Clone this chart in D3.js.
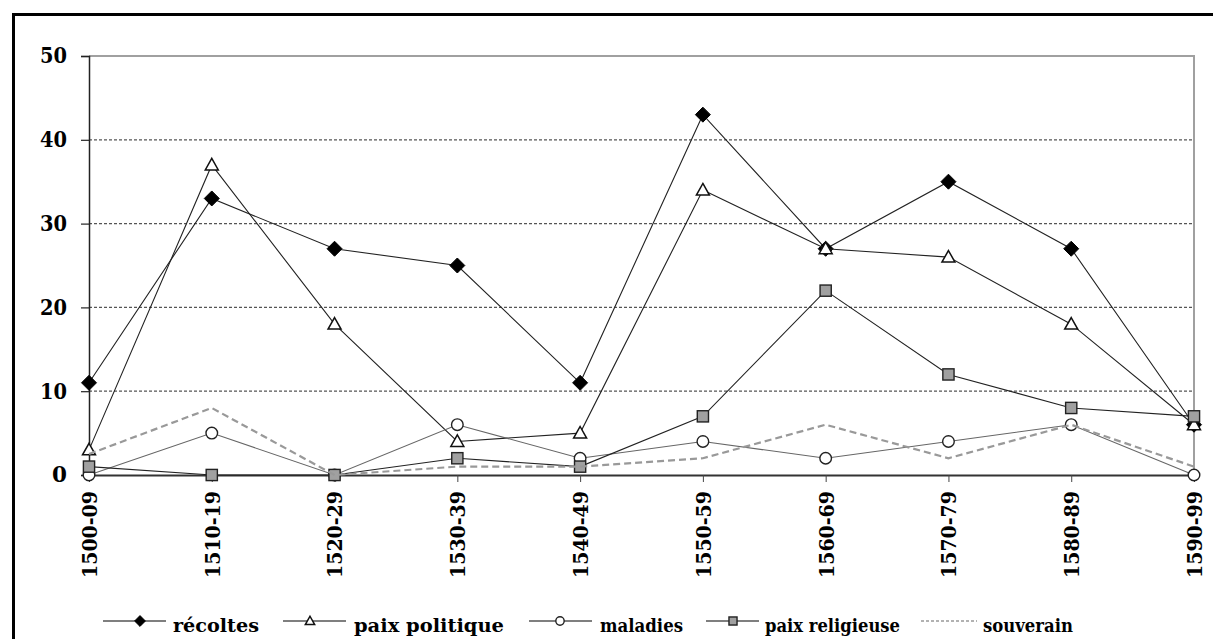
<!DOCTYPE html>
<html>
<head>
<meta charset="utf-8">
<script src="https://cdn.jsdelivr.net/npm/d3@7"></script>
<style>
  html, body { margin: 0; padding: 0; background: #fff; }
  svg { display: block; }
</style>
</head>
<body>
<svg id="chart" width="1213" height="639"></svg>
<script>
// ---- data ----
const categories = ["1500-09","1510-19","1520-29","1530-39","1540-49","1550-59","1560-69","1570-79","1580-89","1590-99"];
const recoltes        = [11, 33, 27, 25, 11, 43, 27, 35, 27, 6];
const paixPolitique   = [3, 37, 18, 4, 5, 34, 27, 26, 18, 6];
const maladies        = [0, 5, 0, 6, 2, 4, 2, 4, 6, 0];
const paixReligieuse  = [1, 0, 0, 2, 1, 7, 22, 12, 8, 7];
const souverain       = [2.5, 8, 0, 1, 1, 2, 6, 2, 6, 1];
const seriesNames     = ["récoltes", "paix politique", "maladies", "paix religieuse", "souverain"];
const yTicks          = [0, 10, 20, 30, 40, 50];

// ---- layout ----
const svg = d3.select("#chart");
const W = 1213, H = 639;
const plotLeft = 89, plotRight = 1194, plotTop = 56, plotBottom = 475;
const FONT = "'DejaVu Serif', serif";

const x = d3.scalePoint().domain(categories).range([plotLeft, plotRight]);
const y = d3.scaleLinear().domain([0, 50]).range([plotBottom, plotTop]);

// outer frame (left and top edges visible)
svg.append("line").attr("x1", 13.5).attr("x2", 13.5).attr("y1", 13).attr("y2", H + 2)
  .attr("stroke", "#000").attr("stroke-width", 3);
svg.append("line").attr("x1", 12).attr("x2", W + 2).attr("y1", 14.5).attr("y2", 14.5)
  .attr("stroke", "#000").attr("stroke-width", 3);

// gridlines
svg.append("g").selectAll("line").data(yTicks.filter(d => d > 0 && d < 50)).join("line")
  .attr("x1", plotLeft).attr("x2", plotRight)
  .attr("y1", d => y(d)).attr("y2", d => y(d))
  .attr("stroke", "#555").attr("stroke-width", 1.2).attr("stroke-dasharray", "3,2");

// plot border top & right (gray)
svg.append("path")
  .attr("d", `M${plotLeft},${y(50)}H${plotRight}V${y(0)}`)
  .attr("fill", "none").attr("stroke", "#a0a0a0").attr("stroke-width", 2);

// y axis
const yAxis = svg.append("g").attr("transform", `translate(${plotLeft},0)`)
  .call(d3.axisLeft(y).tickValues(yTicks).tickSize(8).tickPadding(14).tickFormat(d3.format("d")));
yAxis.select(".domain").attr("stroke", "#222").attr("stroke-width", 1.5);
yAxis.selectAll(".tick line").attr("stroke", "#222").attr("stroke-width", 1.2);
yAxis.selectAll(".tick text").attr("font-family", FONT).attr("font-weight", "bold")
  .attr("font-size", 21.5).attr("fill", "#000")
  .each(function(d) { if (d >= 10) d3.select(this).attr("textLength", 27).attr("lengthAdjust", "spacingAndGlyphs"); });

// x axis
const xAxis = svg.append("g").attr("transform", `translate(0,${plotBottom})`)
  .call(d3.axisBottom(x).tickSize(7).tickSizeOuter(0));
xAxis.select(".domain").attr("stroke", "#333").attr("stroke-width", 2);
xAxis.selectAll(".tick line").attr("stroke", "#444").attr("stroke-width", 1);
xAxis.selectAll(".tick text")
  .attr("transform", "rotate(-90)")
  .attr("x", -16).attr("y", 0).attr("dy", "0.36em")
  .attr("text-anchor", "end")
  .attr("font-family", FONT).attr("font-weight", "bold")
  .attr("font-size", 20.5).attr("fill", "#000")
  .attr("textLength", 87).attr("lengthAdjust", "spacingAndGlyphs");

// series definitions
const series = [
  { name: seriesNames[0], values: recoltes, stroke: "#222", width: 1.1, dash: null, marker: "diamond" },
  { name: seriesNames[1], values: paixPolitique, stroke: "#222", width: 1.1, dash: null, marker: "triangle" },
  { name: seriesNames[2], values: maladies, stroke: "#666", width: 1.1, dash: null, marker: "circle" },
  { name: seriesNames[3], values: paixReligieuse, stroke: "#222", width: 1.1, dash: null, marker: "square" },
  { name: seriesNames[4], values: souverain, stroke: "#999", width: 2.2, dash: "7,4", marker: null }
];

function drawMarker(g, type, cx, cy, s) {
  if (type === "diamond") {
    const r = 7.5 * s;
    g.append("path").attr("d", `M${cx},${cy - r}L${cx + r},${cy}L${cx},${cy + r}L${cx - r},${cy}Z`)
      .attr("fill", "#000").attr("stroke", "#000").attr("stroke-width", 1);
  } else if (type === "triangle") {
    const h = 11 * s, w = 6.5 * s;
    g.append("path").attr("d", `M${cx},${cy - h * 0.6}L${cx + w},${cy + h * 0.45}L${cx - w},${cy + h * 0.45}Z`)
      .attr("fill", "#fff").attr("stroke", "#111").attr("stroke-width", 1.5);
  } else if (type === "circle") {
    g.append("circle").attr("cx", cx).attr("cy", cy).attr("r", 5.8 * s)
      .attr("fill", "#fff").attr("stroke", "#222").attr("stroke-width", 1.4);
  } else if (type === "square") {
    const a = 5.6 * s;
    g.append("rect").attr("x", cx - a).attr("y", cy - a).attr("width", 2 * a).attr("height", 2 * a)
      .attr("fill", "#a0a0a0").attr("stroke", "#222").attr("stroke-width", 1.4);
  }
}

const line = d3.line().x((d, i) => x(categories[i])).y(d => y(d));

series.forEach(s => {
  const g = svg.append("g");
  g.append("path").attr("d", line(s.values))
    .attr("fill", "none").attr("stroke", s.stroke).attr("stroke-width", s.width)
    .attr("stroke-dasharray", s.dash);
  if (s.marker) {
    s.values.forEach((v, i) => drawMarker(g, s.marker, x(categories[i]), y(v), 1));
  }
});

// legend
const legendY = 621;
const legendItems = [
  { s: series[0], x1: 103, x2: 166, mx: 140, tx: 173, tw: 86 },
  { s: series[1], x1: 283, x2: 346, mx: 310, tx: 354, tw: 150 },
  { s: series[2], x1: 529, x2: 592, mx: 560, tx: 600, tw: 83 },
  { s: series[3], x1: 706, x2: 759, mx: 733, tx: 765, tw: 135 },
  { s: series[4], x1: 921, x2: 977, mx: 949, tx: 983, tw: 90 }
];
const lg = svg.append("g");
legendItems.forEach(it => {
  const s = it.s;
  lg.append("line").attr("x1", it.x1).attr("x2", it.x2).attr("y1", legendY).attr("y2", legendY)
    .attr("stroke", s.marker ? "#555" : "#999").attr("stroke-width", s.marker ? 1.3 : 1.5)
    .attr("stroke-dasharray", s.marker ? null : "3,2");
  if (s.marker) drawMarker(lg, s.marker, it.mx, legendY, 0.72);
  lg.append("text").attr("x", it.tx).attr("y", 632)
    .attr("font-family", FONT).attr("font-weight", "bold").attr("font-size", 19)
    .attr("textLength", it.tw).attr("lengthAdjust", "spacingAndGlyphs")
    .attr("fill", "#000").text(s.name);
});
</script>
</body>
</html>
